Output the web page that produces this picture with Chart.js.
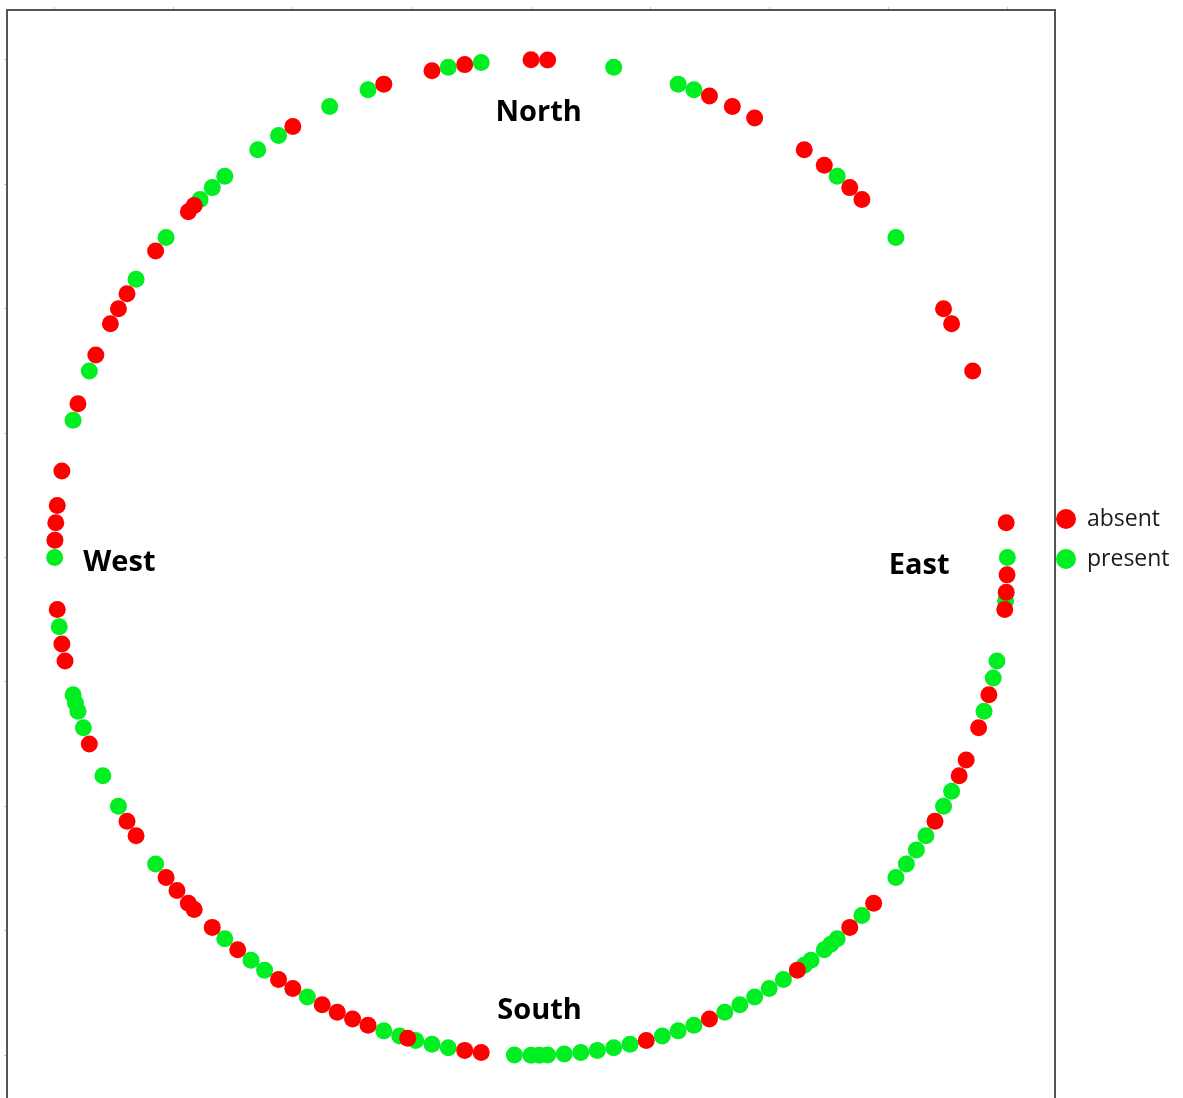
<!DOCTYPE html>
<html>
<head>
<meta charset="utf-8">
<script src="https://cdn.jsdelivr.net/npm/chart.js@4.4.1/dist/chart.umd.min.js"></script>
<style>
  html, body { margin: 0; padding: 0; background: #ffffff; overflow: hidden; height: 1098px; }
  #frame { position: relative; width: 1183px; height: 1098px; overflow: hidden; }
  #chart { display: block; position: absolute; left: 0; top: 0; }
</style>
</head>
<body>
<div id="frame"><canvas id="chart" width="1183" height="1105"></canvas></div>
<script>
// Bearings of each observation, degrees clockwise from North
const absentBearings = [
  0, 2, 22, 25, 28, 35, 38, 42, 44, 60, 62, 68,
  86, 92, 94, 96, 106, 110, 114, 116, 122, 134, 138, 146, 158, 166,
  186, 188, 195, 200, 202, 204, 206, 210, 212, 218, 222, 225, 226, 228, 230,
  236, 238, 248, 258, 260, 264, 272, 274, 276, 280,
  288, 294, 298, 300, 302, 308, 314, 315, 330, 342, 348, 352
];
const presentBearings = [
  10, 18, 20, 40, 50, 90, 95, 102, 104, 108, 118, 120, 124, 126, 128, 130,
  136, 140, 141, 142, 144, 145, 148, 150, 152, 154, 156, 160, 162, 164,
  168, 170, 172, 174, 176, 178, 179, 180, 182,
  190, 192, 194, 196, 198, 208, 214, 216, 220, 232, 240, 244,
  250, 252, 253, 254, 262, 270,
  286, 292, 304, 310, 316, 318, 320, 325, 328, 335, 340, 350, 354
];
const seriesNames = ['absent', 'present'];
const seriesColors = ['#ff0000', '#00ee22'];
const axisTicks = [-1, -0.75, -0.5, -0.25, 0, 0.25, 0.5, 0.75, 1];
const compassNames = ['North', 'East', 'South', 'West'];

// Place a bearing on the unit circle (North up, East right)
const toPoint = b => ({ x: Math.sin(b * Math.PI / 180), y: Math.cos(b * Math.PI / 180) });

// Compass words written inside the ring, anchored in data units
const compassText = {
  id: 'compassText',
  afterDatasetsDraw(chart, args, opts) {
    const { ctx, scales: { x, y } } = chart;
    ctx.save();
    ctx.font = opts.font;
    ctx.fillStyle = opts.color;
    ctx.textAlign = 'center';
    ctx.textBaseline = 'middle';
    compassNames.forEach((name, i) => {
      const a = opts.anchors[i];
      ctx.fillText(name, x.getPixelForValue(a[0]), y.getPixelForValue(a[1]));
    });
    ctx.restore();
  }
};

// Key placed to the right of the plot frame
const sideKey = {
  id: 'sideKey',
  afterDraw(chart, args, opts) {
    const { ctx, chartArea } = chart;
    ctx.save();
    ctx.font = opts.font;
    ctx.textAlign = 'left';
    ctx.textBaseline = 'alphabetic';
    chart.data.datasets.forEach((ds, i) => {
      const cx = chartArea.right + opts.offsetX;
      const cy = opts.firstY + i * opts.rowGap;
      ctx.beginPath();
      ctx.fillStyle = ds.backgroundColor;
      ctx.arc(cx, cy, opts.radius, 0, Math.PI * 2);
      ctx.fill();
      ctx.fillStyle = opts.color;
      ctx.fillText(ds.label, cx + opts.textGap, cy + opts.baselineShift);
    });
    ctx.restore();
  }
};

const frameScale = (position) => ({
  type: 'linear',
  position: position,
  min: -1.1,
  max: 1.1,
  afterBuildTicks: s => { s.ticks = axisTicks.map(v => ({ value: v })); },
  ticks: { display: false },
  grid: { display: true, drawOnChartArea: false, drawTicks: true, tickLength: 3, color: '#c8c8c8', lineWidth: 1 },
  border: { display: true, color: '#555555', width: 2 }
});

new Chart(document.getElementById('chart'), {
  type: 'scatter',
  data: {
    datasets: [
      { label: seriesNames[0], data: absentBearings.map(toPoint), backgroundColor: seriesColors[0] },
      { label: seriesNames[1], data: presentBearings.map(toPoint), backgroundColor: seriesColors[1] }
    ]
  },
  options: {
    responsive: false,
    animation: false,
    events: [],
    layout: { autoPadding: false, padding: { left: 4, top: 7, right: 128, bottom: 0 } },
    elements: { point: { radius: 8.5, hoverRadius: 8.5, borderWidth: 0 } },
    scales: {
      x: frameScale('top'),
      y: frameScale('left'),
      yRight: {
        type: 'linear',
        position: 'right',
        min: 0,
        max: 1,
        ticks: { display: false },
        grid: { display: false, drawTicks: false, tickLength: 0 },
        border: { display: true, color: '#555555', width: 2 }
      }
    },
    plugins: {
      legend: { display: false },
      tooltip: { enabled: false },
      compassText: {
        font: 'bold 29px "Open Sans", sans-serif',
        color: '#000000',
        anchors: [[0.016, 0.894], [0.815, -0.017], [0.018, -0.91], [-0.864, -0.011]]
      },
      sideKey: {
        font: '23px "Open Sans", sans-serif',
        color: '#1a1a1a',
        offsetX: 11,
        firstY: 519,
        rowGap: 40,
        radius: 10,
        textGap: 21,
        baselineShift: 7
      }
    }
  },
  plugins: [compassText, sideKey]
});
</script>
</body>
</html>
